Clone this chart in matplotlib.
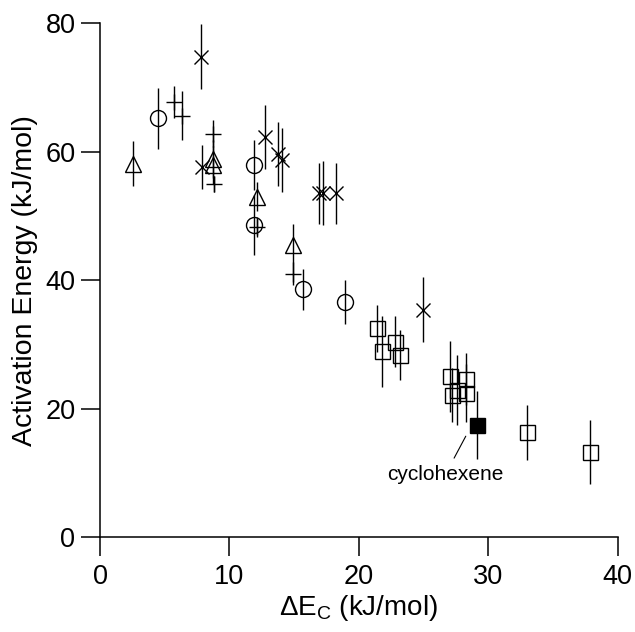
#------------------------------------------------------------------------------
# Activation energy vs Delta E_C scatter with error bars
#------------------------------------------------------------------------------
import matplotlib
matplotlib.use('Agg')
import matplotlib.pyplot as plt

plt.rcParams['font.family'] = ['Liberation Sans', 'DejaVu Sans']
plt.rcParams['mathtext.fontset'] = 'custom'
plt.rcParams['mathtext.rm'] = 'Liberation Sans'

#------------------------------------------------------------------------------
# Data
tri_x   = [2.57, 8.76, 8.76, 12.1, 14.9]
tri_y   = [58.1, 58.9, 57.9, 53.0, 45.5]
tri_err = [3.5, 3.0, 3.0, 2.3, 3.3]

circ_x   = [4.46, 11.9, 11.9, 15.7, 18.9]
circ_y   = [65.2, 57.9, 48.6, 38.6, 36.6]
circ_err = [4.8, 3.9, 4.7, 3.2, 3.4]

plus_x   = [5.72, 6.31, 8.71, 8.81, 12.1, 14.9]
plus_y   = [67.7, 65.6, 62.8, 55.0, 48.3, 41.0]
plus_err = [2.5, 3.8, 2.1, 1.2, 1.5, 1.8]

cross_x   = [7.81, 7.86, 12.73, 13.73, 14.04, 16.95, 17.25, 18.2, 24.99]
cross_y   = [74.8, 57.6, 62.3, 59.6, 58.7, 53.5, 53.6, 53.5, 35.4]
cross_err = [5.1, 3.4, 5.0, 5.0, 5.0, 4.7, 5.0, 4.7, 5.1]

sq_x   = [21.4, 21.8, 22.8, 23.2, 27.05, 27.2, 27.6, 28.3, 28.3, 32.97, 37.87]
sq_y   = [32.5, 28.9, 30.4, 28.3, 25.0, 22.1, 22.9, 24.6, 22.4, 16.3, 13.3]
sq_err = [3.7, 5.5, 4.0, 3.9, 5.5, 4.2, 5.5, 4.0, 4.5, 4.3, 5.0]

cyc_x   = [29.1]
cyc_y   = [17.4]
cyc_err = [5.3]

cyc_label = 'cyclohexene'
cyc_text_xy  = (26.7, 9.8)
cyc_arrow_xy = (28.26, 15.7)

x_ticks = [0, 10, 20, 30, 40]
y_ticks = [0, 20, 40, 60, 80]

#------------------------------------------------------------------------------
fig = plt.figure(figsize=(6.35, 6.32), dpi=100)
ax = fig.add_axes([0.1575, 0.1503, 0.8153, 0.8128])

groups = [
    (tri_x,   tri_y,   tri_err,   '^', 11,   'none'),
    (circ_x,  circ_y,  circ_err,  'o', 11.5, 'none'),
    (plus_x,  plus_y,  plus_err,  '+', 12,   'none'),
    (cross_x, cross_y, cross_err, 'x', 9.5,  'none'),
    (sq_x,    sq_y,    sq_err,    's', 10.8, 'none'),
    (cyc_x,   cyc_y,   cyc_err,   's', 10.8, 'k'),
]

for gx, gy, ge, mk, ms, fc in groups:
    ax.errorbar(gx, gy, yerr=ge, fmt='none', ecolor='k',
                elinewidth=1.0, capsize=0)
    ax.plot(gx, gy, linestyle='none', marker=mk, markersize=ms,
            markerfacecolor=fc, markeredgecolor='k', markeredgewidth=1.0)

ax.annotate(cyc_label, xy=cyc_arrow_xy, xytext=cyc_text_xy,
            ha='center', va='center', fontsize=15,
            arrowprops=dict(arrowstyle='-', lw=0.8, color='k',
                            shrinkA=3, shrinkB=0))

ax.set_xlim(0, 40)
ax.set_ylim(0, 80)
ax.set_xticks(x_ticks)
ax.set_yticks(y_ticks)

for side in ['top', 'right']:
    ax.spines[side].set_visible(False)
for side in ['left', 'bottom']:
    ax.spines[side].set_linewidth(1.1)

ax.tick_params(direction='out', length=13.7, width=1.1, labelsize=19.5)
ax.tick_params(axis='y', pad=4)
ax.tick_params(axis='x', pad=6)

ax.set_xlabel('ΔE$_\\mathrm{C}$ (kJ/mol)', fontsize=20, labelpad=2)
ax.set_ylabel('Activation Energy (kJ/mol)', fontsize=20.5, labelpad=5)

fig.savefig('out.png', dpi=100)
